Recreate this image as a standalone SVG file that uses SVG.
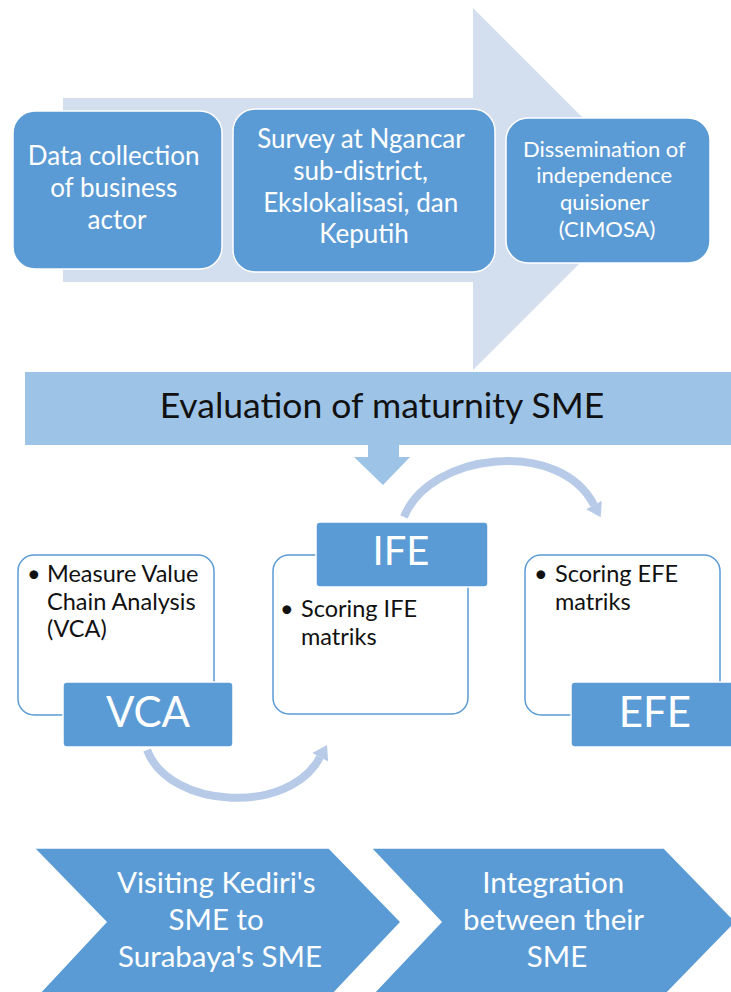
<svg xmlns="http://www.w3.org/2000/svg" width="731" height="992" viewBox="0 0 731 992">
  <style>
    .box { fill: #5b9bd5; stroke: #ffffff; stroke-width: 1.5; }
    .outline { fill: #ffffff; stroke: #5b9bd5; stroke-width: 1.5; }
    .wt { fill: #ffffff; font-family: Lato, "Open Sans", sans-serif; text-anchor: middle; }
    .bk { fill: #111111; font-family: Lato, "Open Sans", sans-serif; }
    .curve { fill: none; stroke: #b7cbe8; stroke-width: 8; }
    .head { fill: #b7cbe8; }
  </style>

  <!-- background process arrow -->
  <g id="process-arrow">
    <polygon points="63,98 473,98 473,8 654,189 473,370 473,282 63,282" fill="#d3deef"/>
  </g>

  <g id="data-collection">
    <rect class="box" x="13" y="111" width="209" height="158" rx="22"/>
    <text class="wt" font-size="26">
      <tspan x="117" y="165">Data collection</tspan>
      <tspan x="117" y="197">of business</tspan>
      <tspan x="117" y="229">actor</tspan>
    </text>
  </g>

  <g id="survey">
    <rect class="box" x="233" y="109" width="262" height="163" rx="22"/>
    <text class="wt" font-size="26">
      <tspan x="364" y="148">Survey at Ngancar</tspan>
      <tspan x="364" y="180">sub-district,</tspan>
      <tspan x="364" y="212">Ekslokalisasi, dan</tspan>
      <tspan x="364" y="243">Keputih</tspan>
    </text>
  </g>

  <g id="dissemination">
    <rect class="box" x="506" y="118" width="204" height="145" rx="22"/>
    <text class="wt" font-size="22">
      <tspan x="607" y="157">Dissemination of</tspan>
      <tspan x="607" y="183">independence</tspan>
      <tspan x="607" y="210">quisioner</tspan>
      <tspan x="607" y="237">(CIMOSA)</tspan>
    </text>
  </g>

  <g id="evaluation">
    <rect x="25" y="372" width="706" height="73" fill="#9dc3e6"/>
    <text x="382" y="418" font-size="35.5" fill="#111111" font-family="Lato, 'Open Sans', sans-serif" text-anchor="middle">Evaluation of maturnity SME</text>
  </g>

  <g id="connectors">
    <!-- down arrow from evaluation bar -->
    <polygon points="368,445 399,445 399,457 410,457 383,485 354,457 368,457" fill="#9dc3e6"/>
    <!-- IFE to EFE -->
    <path class="curve" d="M404,517 C430,452 560,438 594,505"/>
    <polygon class="head" points="601.8,500.7 586.2,509.3 600.7,517.2"/>
    <!-- VCA to IFE -->
    <path class="curve" d="M147,750 C170,810 290,815 320,757"/>
    <polygon class="head" points="328.2,761.6 312.4,753 327,745"/>
  </g>

  <g id="vca">
    <rect class="outline" x="18" y="555" width="196" height="160" rx="16"/>
    <text class="bk" font-size="23.5">
      <tspan x="27" y="582">•</tspan><tspan x="47" y="582">Measure Value</tspan>
      <tspan x="47" y="610">Chain Analysis</tspan>
      <tspan x="47" y="637">(VCA)</tspan>
    </text>
    <rect class="box" x="63" y="682" width="170" height="65" rx="4" stroke-width="1"/>
    <text class="wt" x="148" y="727" font-size="42">VCA</text>
  </g>

  <g id="ife">
    <rect class="outline" x="273" y="555" width="195" height="159" rx="16"/>
    <rect class="box" x="316" y="522" width="172" height="65" rx="4" stroke-width="1"/>
    <text class="wt" x="401" y="565" font-size="40">IFE</text>
    <text class="bk" font-size="23.5">
      <tspan x="280" y="617">•</tspan><tspan x="301" y="617">Scoring IFE</tspan>
      <tspan x="301" y="645">matriks</tspan>
    </text>
  </g>

  <g id="efe">
    <rect class="outline" x="525" y="555" width="195" height="160" rx="16"/>
    <text class="bk" font-size="23.5">
      <tspan x="534" y="582">•</tspan><tspan x="555" y="582">Scoring EFE</tspan>
      <tspan x="555" y="610">matriks</tspan>
    </text>
    <rect class="box" x="571" y="682" width="165" height="65" rx="4" stroke-width="1"/>
    <text class="wt" x="655" y="727" font-size="42">EFE</text>
  </g>

  <g id="visiting">
    <polygon class="box" stroke-width="1" points="34,848 329,848 401,922 331,996 37,996 106,922"/>
    <text class="wt" font-size="29.5">
      <tspan x="220" y="893">Visiting Kediri's</tspan>
      <tspan x="220" y="930">SME to</tspan>
      <tspan x="220" y="967">Surabaya's SME</tspan>
    </text>
  </g>

  <g id="integration">
    <polygon class="box" stroke-width="1" points="371,848 664,848 736,922 664,996 371,996 441,922"/>
    <text class="wt" font-size="29.5">
      <tspan x="557" y="893">Integration</tspan>
      <tspan x="557" y="930">between their</tspan>
      <tspan x="557" y="967">SME</tspan>
    </text>
  </g>
</svg>
